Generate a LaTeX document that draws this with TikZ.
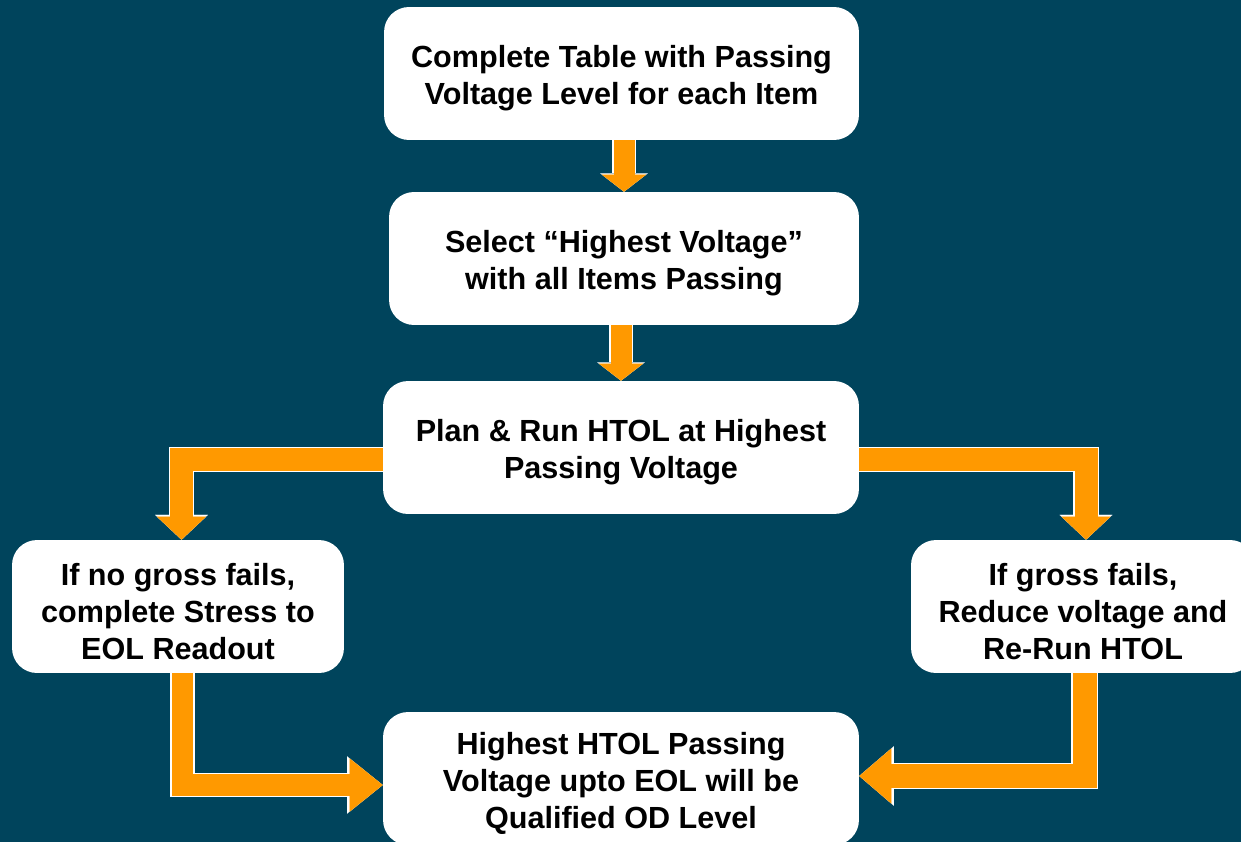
\documentclass[tikz,border=0pt]{standalone}
\usepackage{fontspec}
\setmainfont{Liberation Sans}
\usepackage{tikz}
\usetikzlibrary{arrows.meta}
\definecolor{bgteal}{RGB}{0,68,92}
\definecolor{floworange}{RGB}{255,153,0}
\newcommand{\topstrut}{\rule{0pt}{18pt}}

\begin{document}
\begin{tikzpicture}[x=0.02cm, y=-0.02cm,
  step box/.style={fill=white, rounded corners=0.5cm, minimum height=2.66cm, align=center,
    font=\fontsize{17.4}{21}\selectfont\bfseries},
  flow/.style n args={3}{draw=floworange, line width=#1, line join=miter,
    -{Triangle[width=#2, length=#3, line width=0.01pt]},
    preaction={draw=white, line width=#1+1.4pt, -{Triangle[width=#2, length=#3, line width=0.01pt, scale=1.08]}}}]
  \fill[bgteal] (0,0) rectangle (1241,842);
  \clip (0,0) rectangle (1241,842);

  \node[step box, minimum width=9.5cm] (table) at (621.5,73.5) {\topstrut Complete Table with Passing\\Voltage Level for each Item};
  \node[step box, minimum width=9.4cm] (select) at (624,258.5) {\topstrut Select “Highest Voltage”\\with all Items Passing};
  \node[step box, minimum width=9.52cm] (run) at (621,447.5) {\topstrut Plan \& Run HTOL at Highest\\Passing Voltage};
  \node[step box, minimum width=6.64cm] (nofail) at (178,606.5) {\topstrut If no gross fails,\\complete Stress to\\EOL Readout};
  \node[step box, minimum width=6.88cm] (fail) at (1083,606.5) {\topstrut If gross fails,\\Reduce voltage and\\Re-Run HTOL};
  \node[step box, minimum width=9.52cm] (level) at (621,778.5) {\topstrut Highest HTOL Passing\\Voltage upto EOL will be\\Qualified OD Level};

  \draw[flow={0.42cm}{0.88cm}{0.34cm}] (select.north |- table.south) -- (select.north);
  \draw[flow={0.42cm}{0.88cm}{0.34cm}] (run.north |- select.south) -- (run.north);
  \draw[flow={0.46cm}{0.98cm}{0.46cm}] ([yshift=-0.24cm]run.west) -| ([xshift=0.07cm]nofail.north);
  \draw[flow={0.46cm}{0.98cm}{0.46cm}] ([yshift=-0.24cm]run.east) -| ([xshift=0.06cm]fail.north);
  \draw[flow={0.44cm}{1.06cm}{0.66cm}] ([xshift=0.09cm]nofail.south) |- ([yshift=-0.13cm]level.west);
  \draw[flow={0.48cm}{1.1cm}{0.64cm}] ([xshift=0.03cm]fail.south) |- ([yshift=0.05cm]level.east);
\end{tikzpicture}
\end{document}
